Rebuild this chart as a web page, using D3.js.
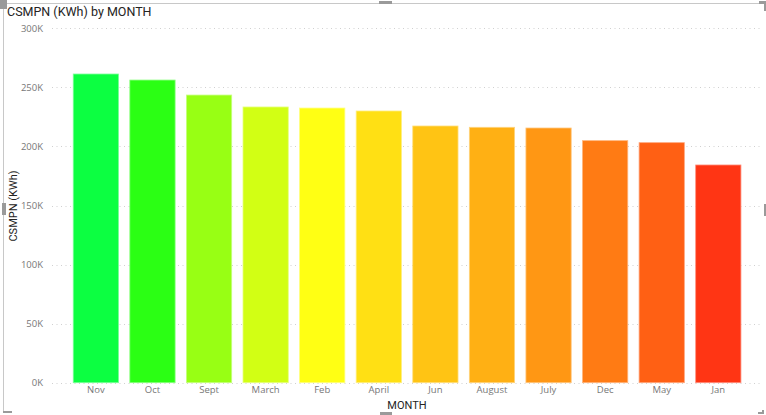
<!DOCTYPE html>
<html>
<head>
<meta charset="utf-8">
<script src="https://cdn.jsdelivr.net/npm/d3@7"></script>
<style>
  html, body { margin: 0; padding: 0; background: #fff; }
  svg { display: block; }
</style>
</head>
<body>
<svg id="chart" width="766" height="415"></svg>
<script>
const months = ["Nov","Oct","Sept","March","Feb","April","Jun","August","July","Dec","May","Jan"];
const values = [261300, 256200, 243500, 233400, 232500, 230000, 217300, 216200, 215600, 204900, 203200, 184300];
const colors = ["#0CFF41","#2BFF14","#98FF14","#D2FF14","#FFFF14","#FFE014","#FFC414","#FFB014","#FF9714","#FF7B14","#FF6014","#FF3514"];
const yTicks = [0, 50000, 100000, 150000, 200000, 250000, 300000];

const svg = d3.select("#chart");
const W = 766, H = 415;

// visual frame
svg.append("line").attr("x1", 3.5).attr("x2", 765).attr("y1", 3.5).attr("y2", 3.5)
  .attr("stroke", "#c8c8c8").attr("stroke-width", 1);
svg.append("line").attr("x1", 3.5).attr("x2", 3.5).attr("y1", 3.5).attr("y2", 411)
  .attr("stroke", "#c8c8c8").attr("stroke-width", 1);
// handles
const hc = "#9a9a9a";
svg.append("rect").attr("x", 0).attr("y", 0).attr("width", 7).attr("height", 9).attr("fill", hc);
svg.append("rect").attr("x", 759).attr("y", 1).attr("width", 6).attr("height", 3).attr("fill", hc);
svg.append("rect").attr("x", 764).attr("y", 1).attr("width", 2).attr("height", 10).attr("fill", hc);
svg.append("rect").attr("x", 379).attr("y", 1).attr("width", 13).attr("height", 3).attr("fill", hc);
svg.append("rect").attr("x", 2).attr("y", 203).attr("width", 4).attr("height", 12).attr("fill", hc);
svg.append("rect").attr("x", 764).attr("y", 204).attr("width", 2).attr("height", 12).attr("fill", hc);
svg.append("rect").attr("x", 380).attr("y", 412).attr("width", 12).attr("height", 3).attr("fill", hc);
svg.append("rect").attr("x", 3).attr("y", 411).attr("width", 9).attr("height", 2).attr("fill", hc);
svg.append("rect").attr("x", 762).attr("y", 410).attr("width", 2).attr("height", 4).attr("fill", hc);
svg.append("rect").attr("x", 758).attr("y", 412).attr("width", 6).attr("height", 2).attr("fill", hc);

// title
svg.append("text").attr("x", 7).attr("y", 16)
  .attr("font-family", "Roboto, 'DejaVu Sans', sans-serif")
  .attr("font-size", 12.5).attr("fill", "#252423")
  .text("CSMPN (KWh) by MONTH");

const x = d3.scaleBand().domain(months).range([67.6, 746.6]).paddingInner(0.2).paddingOuter(0.1);
const y = d3.scaleLinear().domain([0, 300000]).range([382.7, 28.3]);

// gridlines
svg.append("g").selectAll("line").data(yTicks).join("line")
  .attr("x1", 52).attr("x2", 762)
  .attr("y1", d => Math.round(y(d)) + 0.5).attr("y2", d => Math.round(y(d)) + 0.5)
  .attr("stroke", "#d0d0d0").attr("stroke-width", 1).attr("stroke-dasharray", "1,3.5");

// y axis labels
const yAxis = d3.axisLeft(y).tickValues(yTicks).tickSize(0).tickPadding(0)
  .tickFormat(d => (d / 1000) + "K");
const ya = svg.append("g").attr("transform", "translate(43,0)").call(yAxis);
ya.select(".domain").remove();
ya.selectAll("text").attr("font-family", "'Open Sans', sans-serif").attr("font-size", 9.5)
  .attr("fill", "#777");

// bars
svg.append("g").selectAll("rect").data(months).join("rect")
  .attr("x", d => x(d))
  .attr("y", (d, i) => y(values[i]))
  .attr("width", x.bandwidth())
  .attr("height", (d, i) => y(0) - y(values[i]))
  .attr("fill", (d, i) => colors[i])
  .attr("stroke", (d, i) => d3.interpolateRgb(colors[i], "#fff")(0.45))
  .attr("stroke-width", 0.8);

// x axis labels
const xAxis = d3.axisBottom(x).tickSize(0).tickPadding(0);
const xa = svg.append("g").attr("transform", "translate(0,386)").call(xAxis);
xa.select(".domain").remove();
xa.selectAll("text").attr("font-family", "'Open Sans', sans-serif").attr("font-size", 9.5)
  .attr("fill", "#777").attr("dy", "0.71em");

// axis titles
svg.append("text").attr("x", 407).attr("y", 409).attr("text-anchor", "middle")
  .attr("font-family", "Roboto, 'DejaVu Sans', sans-serif").attr("font-size", 11)
  .attr("fill", "#252423").text("MONTH");
svg.append("text").attr("transform", "translate(17,206) rotate(-90)").attr("text-anchor", "middle")
  .attr("font-family", "Roboto, 'DejaVu Sans', sans-serif").attr("font-size", 11)
  .attr("fill", "#252423").text("CSMPN (KWh)");
</script>
</body>
</html>
